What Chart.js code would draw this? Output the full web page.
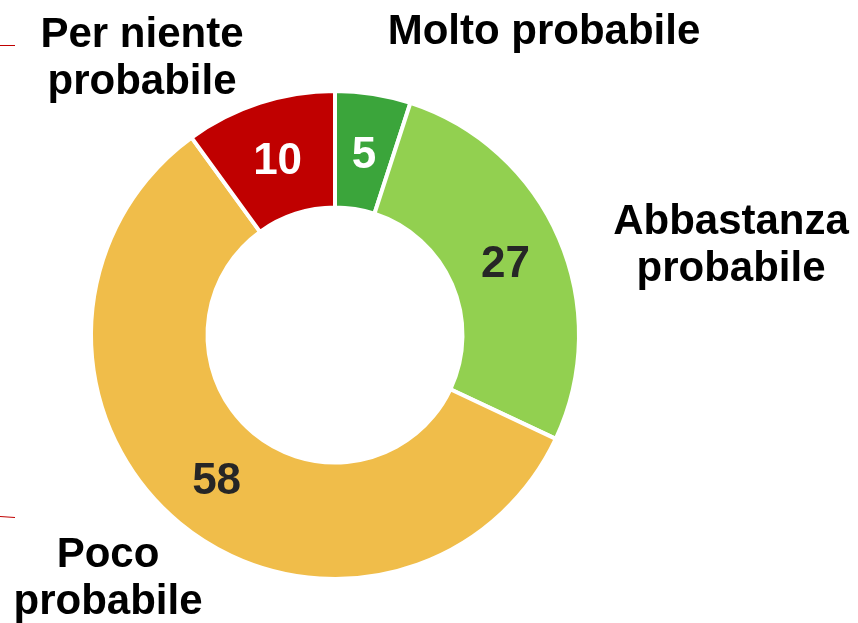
<!DOCTYPE html>
<html>
<head>
<meta charset="utf-8">
<script src="https://cdn.jsdelivr.net/npm/chart.js@4/dist/chart.umd.min.js"></script>
<style>
  html, body { margin: 0; padding: 0; background: #fff; }
  #wrap { width: 858px; height: 623px; position: relative; }
</style>
</head>
<body>
<div id="wrap"><canvas id="chart" width="858" height="623"></canvas></div>
<script>
// Data
const categories = ['Molto probabile', 'Abbastanza probabile', 'Poco probabile', 'Per niente probabile'];
const values = [5, 27, 58, 10];
const sliceColors = ['#3BA53B', '#92D050', '#F0BD4A', '#C00000'];
const valueColors = ['#ffffff', '#262626', '#262626', '#ffffff'];

// Outer category labels (split into lines), placed around the ring
const outerLabels = [
    { lines: ['Molto probabile'], x: 544, y: 32 },
    { lines: ['Abbastanza', 'probabile'], x: 731, y: 222 },
    { lines: ['Poco', 'probabile'], x: 108, y: 555 },
    { lines: ['Per niente', 'probabile'], x: 142, y: 35 }
];

const VALUE_FONT = 'bold 44px "Liberation Sans", Arial, sans-serif';
const LABEL_FONT = 'bold 42px "Liberation Sans", Arial, sans-serif';

// Draw values inside slices and category names outside
const labelPlugin = {
    id: 'labels',
    afterDatasetsDraw(chart) {
        const ctx = chart.ctx;
        const arcs = chart.getDatasetMeta(0).data;
        ctx.save();
        ctx.textAlign = 'center';
        ctx.textBaseline = 'middle';
        ctx.font = VALUE_FONT;
        arcs.forEach((arc, i) => {
            const pos = arc.tooltipPosition();
            ctx.fillStyle = valueColors[i];
            ctx.fillText(String(values[i]), pos.x, pos.y + 4);
        });
        ctx.font = LABEL_FONT;
        ctx.fillStyle = '#000';
        outerLabels.forEach(lbl => {
            lbl.lines.forEach((line, j) => {
                ctx.fillText(line, lbl.x, lbl.y + j * 47);
            });
        });
        // small stray leader marks at the left edge
        ctx.strokeStyle = '#C00000';
        ctx.lineWidth = 1;
        ctx.beginPath();
        ctx.moveTo(0, 45.5); ctx.lineTo(15, 45.5);
        ctx.moveTo(0, 516.5); ctx.lineTo(15, 517.5);
        ctx.stroke();
        ctx.restore();
    }
};

new Chart(document.getElementById('chart'), {
    type: 'doughnut',
    data: {
        labels: categories,
        datasets: [{
            data: values,
            backgroundColor: sliceColors,
            borderColor: '#ffffff',
            borderWidth: 4
        }]
    },
    options: {
        responsive: false,
        animation: false,
        radius: 244,
        cutout: 128,
        layout: { padding: { left: 88, right: 276, top: 88, bottom: 41 } },
        plugins: {
            legend: { display: false },
            tooltip: { enabled: false }
        }
    },
    plugins: [labelPlugin]
});
</script>
</body>
</html>
